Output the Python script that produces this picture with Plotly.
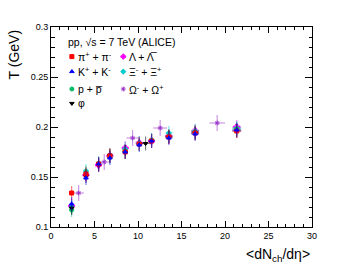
import plotly.graph_objects as go

# ---------------- data ----------------
mult = [2.37, 4.02, 5.47, 6.77, 8.53, 10.14, 11.56, 13.55, 16.57, 21.35]
mult_err = [0.3, 0.3, 0.3, 0.3, 0.3, 0.35, 0.35, 0.4, 0.45, 0.5]

T_pi = [0.134, 0.153, 0.163, 0.171, 0.175, 0.183, 0.186, 0.190, 0.194, 0.196]
T_K = [0.123, 0.149, 0.163, 0.169, 0.175, 0.182, 0.186, 0.189, 0.193, 0.197]
T_p = [0.117, 0.154, 0.163, 0.171, 0.176, 0.183, 0.187, 0.191, 0.195, 0.198]
T_Lam = [0.121, 0.152, 0.162, 0.171, 0.179, 0.184, 0.186, 0.191, 0.196, 0.200]
T_Xi = [0.120, 0.156, 0.164, 0.170, 0.178, 0.184, 0.187, 0.194, 0.196, 0.199]

mult_phi = [2.37, 4.02, 5.47, 6.77, 8.53, 10.87, 13.55, 16.57, 21.35]
mult_phi_err = [0.3, 0.3, 0.3, 0.3, 0.3, 0.6, 0.4, 0.45, 0.5]
T_phi = [0.119, 0.151, 0.162, 0.172, 0.175, 0.1835, 0.190, 0.194, 0.196]

mult_Om = [3.18, 6.12, 9.38, 12.55, 19.1]
mult_Om_err = [0.6, 0.6, 0.7, 0.8, 0.9]
T_Om = [0.134, 0.165, 0.189, 0.199, 0.204]

T_err = 0.007
T_err_Om = 0.008

x_ticks = [0, 5, 10, 15, 20, 25, 30]
y_ticks = [0.1, 0.15, 0.2, 0.25, 0.3]

series = [
    # name, x, xerr, y, yerr, color, symbol, size
    ("Λ", mult, mult_err, T_Lam, T_err, "#ff00ff", "cross", 5),
    ("Ξ", mult, mult_err, T_Xi, T_err, "#00cccc", "diamond", 4),
    ("Ω", mult_Om, mult_Om_err, T_Om, T_err_Om, "#9933cc", "asterisk-open", 4),
    ("p", mult, mult_err, T_p, T_err, "#00bb66", "circle", 4),
    ("φ", mult_phi, mult_phi_err, T_phi, T_err, "#000000", "triangle-down", 4),
    ("π", mult, mult_err, T_pi, T_err, "#ff0000", "square", 4),
    ("K", mult, mult_err, T_K, T_err, "#0000ff", "triangle-up", 4),
]

FONT = "Liberation Sans, Arial, sans-serif"

def rgba(hexc, a):
    h = hexc.lstrip("#")
    r, g, b = int(h[0:2], 16), int(h[2:4], 16), int(h[4:6], 16)
    return f"rgba({r},{g},{b},{a})"

fig = go.Figure()
for name, xs, xe, ys, ye, col, sym, sz in series:
    fig.add_trace(go.Scatter(
        x=xs, y=ys, mode="markers", name=name, showlegend=False,
        marker=dict(color=col, symbol=sym, size=sz,
                    line=dict(color=col, width=1)),
        error_y=dict(type="constant", value=ye, color=rgba(col, 0.5),
                     thickness=1.2, width=0),
        error_x=dict(type="data", array=xe, color=rgba(col, 0.5),
                     thickness=1.2, width=0),
    ))

# ---------------- in-plot legend (layout) ----------------
legend_items = [
    ("π<sup>+</sup> + π<sup>-</sup>", "#ff0000", "square", 0.080, 0.852),
    ("K<sup>+</sup> + K<sup>-</sup>", "#0000ff", "triangle-up", 0.080, 0.777),
    ("p + p\u0305", "#00bb66", "circle", 0.080, 0.690),
    ("φ", "#000000", "triangle-down", 0.080, 0.618),
    ("Λ + Λ\u0305", "#ff00ff", "cross", 0.277, 0.852),
    ("Ξ<sup>-</sup> + Ξ<sup>+</sup>", "#00cccc", "diamond", 0.277, 0.777),
    ("Ω<sup>-</sup> + Ω<sup>+</sup>", "#9933cc", "asterisk-open", 0.277, 0.690),
]
fig.add_trace(go.Scatter(
    x=[it[3] for it in legend_items], y=[it[4] for it in legend_items],
    xaxis="x2", yaxis="y2", mode="markers", showlegend=False, hoverinfo="skip",
    marker=dict(color=[it[1] for it in legend_items],
                symbol=[it[2] for it in legend_items], size=4,
                line=dict(color=[it[1] for it in legend_items], width=1)),
))
annotations = [
    dict(text="pp, √s = 7 TeV (ALICE)", x=0.058, y=0.925, xref="paper", yref="paper",
         xanchor="left", yanchor="middle", showarrow=False,
         font=dict(family=FONT, size=10.5, color="#000")),
]
for txt, col, sym, xp, yp in legend_items:
    annotations.append(dict(text=txt, x=xp + 0.015, y=yp, xref="paper", yref="paper",
                            xanchor="left", yanchor="middle", showarrow=False,
                            font=dict(family=FONT, size=10.5, color="#000")))
# axis titles ROOT-style
annotations.append(dict(text="&lt;dN<sub>ch</sub>/dη&gt;",
                        x=1.0, y=-0.085, xref="paper", yref="paper",
                        xanchor="right", yanchor="top", showarrow=False,
                        font=dict(family=FONT, size=14, color="#000")))
annotations.append(dict(text="T (GeV)", x=-0.14, y=1.0, xref="paper", yref="paper",
                        xanchor="center", yanchor="top", textangle=-90, showarrow=False,
                        font=dict(family=FONT, size=14, color="#000")))

axis_common = dict(showgrid=False, zeroline=False, showline=True, linecolor="#000",
                   linewidth=1, mirror="ticks", ticks="inside", tickcolor="#000",
                   tickwidth=1, tickfont=dict(family=FONT, size=9, color="#000"))

fig.update_layout(
    width=347, height=267,
    margin=dict(l=51, r=35, t=27, b=40),
    paper_bgcolor="white", plot_bgcolor="white",
    showlegend=False,
    xaxis=dict(range=[0, 30], tickvals=x_ticks, ticklen=6,
               minor=dict(ticks="inside", dtick=1, ticklen=3, tickcolor="#000"),
               **axis_common),
    yaxis=dict(range=[0.1, 0.3], tickvals=y_ticks, ticklen=7,
               minor=dict(ticks="inside", dtick=0.01, ticklen=3.5, tickcolor="#000"),
               **axis_common),
    xaxis2=dict(range=[0, 1], overlaying="x", visible=False),
    yaxis2=dict(range=[0, 1], overlaying="y", visible=False),
    annotations=annotations,
)

fig.write_html("out.html", config={"displayModeBar": False},
               post_script="document.body.style.margin='0px';")
